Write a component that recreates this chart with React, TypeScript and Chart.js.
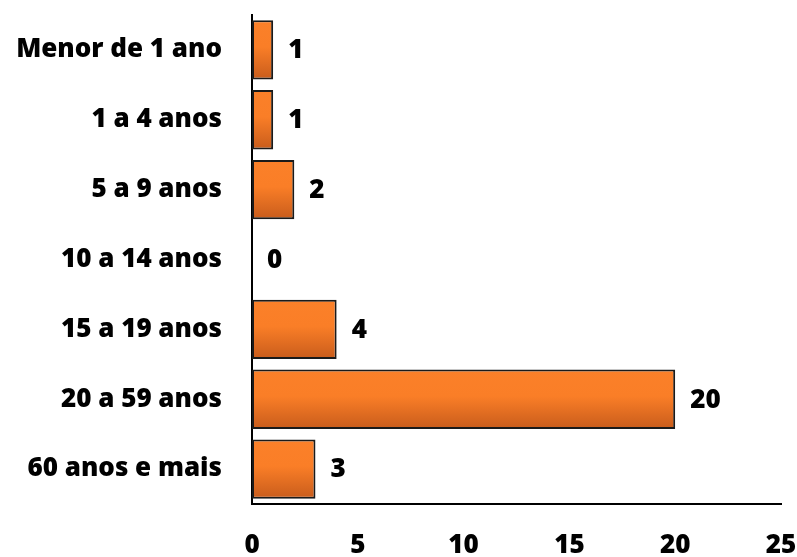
import React, { useEffect, useRef } from "react";
import { Chart, registerables } from "chart.js";

Chart.register(...registerables);

const categories = [
  "Menor de 1 ano",
  "1 a 4 anos",
  "5 a 9 anos",
  "10 a 14 anos",
  "15 a 19 anos",
  "20 a 59 anos",
  "60 anos e mais",
];
const values = [1, 1, 2, 0, 4, 20, 3];
const xTicks = [0, 5, 10, 15, 20, 25];

const FONT = "'Open Sans', Lato, sans-serif";
const BAR_PCT = 0.85;

function barFill(context: any) {
  const chart = context.chart;
  const y = chart.scales?.y;
  if (!y || !chart.chartArea) return "#F97E27";
  const i = context.dataIndex;
  const center = y.getPixelForValue(i);
  const band = (chart.chartArea.bottom - chart.chartArea.top) / categories.length;
  const h = band * BAR_PCT;
  const top = center - h / 2;
  const g = chart.ctx.createLinearGradient(0, top, 0, top + h);
  g.addColorStop(0, "#FB8029");
  g.addColorStop(0.45, "#FA7E27");
  g.addColorStop(1, "#C85C1C");
  return g;
}

const labelPlugin = {
  id: "valueLabels",
  afterDatasetsDraw(chart: any) {
    const ctx = chart.ctx;
    const meta = chart.getDatasetMeta(0);
    ctx.save();
    ctx.font = `800 26px ${FONT}`;
    ctx.fillStyle = "#000";
    ctx.textAlign = "left";
    ctx.textBaseline = "middle";
    meta.data.forEach((bar: any, i: number) => {
      ctx.fillText(String(values[i]), bar.x + 15, bar.y + 1);
    });
    ctx.restore();
  },
};

export default function App() {
  const ref = useRef<HTMLCanvasElement>(null);
  useEffect(() => {
    document.body.style.margin = "0";
    const chart = new Chart(ref.current!, {
      type: "bar",
      data: {
        labels: categories,
        datasets: [
          {
            data: values,
            backgroundColor: barFill,
            borderColor: "#1a1a1a",
            borderWidth: 2,
            borderSkipped: false,
            categoryPercentage: 1,
            barPercentage: BAR_PCT,
          },
        ],
      },
      options: {
        indexAxis: "y",
        animation: false,
        responsive: false,
        maintainAspectRatio: false,
        layout: { padding: { top: 15, right: 16, left: 0, bottom: 0 } },
        plugins: { legend: { display: false }, tooltip: { enabled: false } },
        scales: {
          x: {
            min: 0,
            max: 25,
            afterBuildTicks: (scale: any) => {
              scale.ticks = xTicks.map((v) => ({ value: v }));
            },
            grid: { display: false },
            border: { display: true, color: "#000", width: 2 },
            ticks: {
              color: "#000",
              font: { family: FONT, size: 26, weight: "800" },
              padding: 18,
            },
            afterFit: (scale: any) => {
              scale.height = 53;
              scale.paddingLeft = 0;
              scale.paddingRight = 0;
            },
          },
          y: {
            grid: { display: false },
            border: { display: true, color: "#000", width: 2 },
            ticks: {
              color: "#000",
              font: { family: FONT, size: 26, weight: "800" },
              padding: 22,
            },
            afterFit: (scale: any) => {
              scale.width = 252;
              scale.paddingTop = 0;
              scale.paddingBottom = 0;
            },
          },
        },
      },
      plugins: [labelPlugin],
    });
    return () => chart.destroy();
  }, []);
  return (
    <div style={{ position: "absolute", left: 0, top: 0, width: 797, height: 557 }}>
      <canvas ref={ref} width={797} height={557} />
    </div>
  );
}
